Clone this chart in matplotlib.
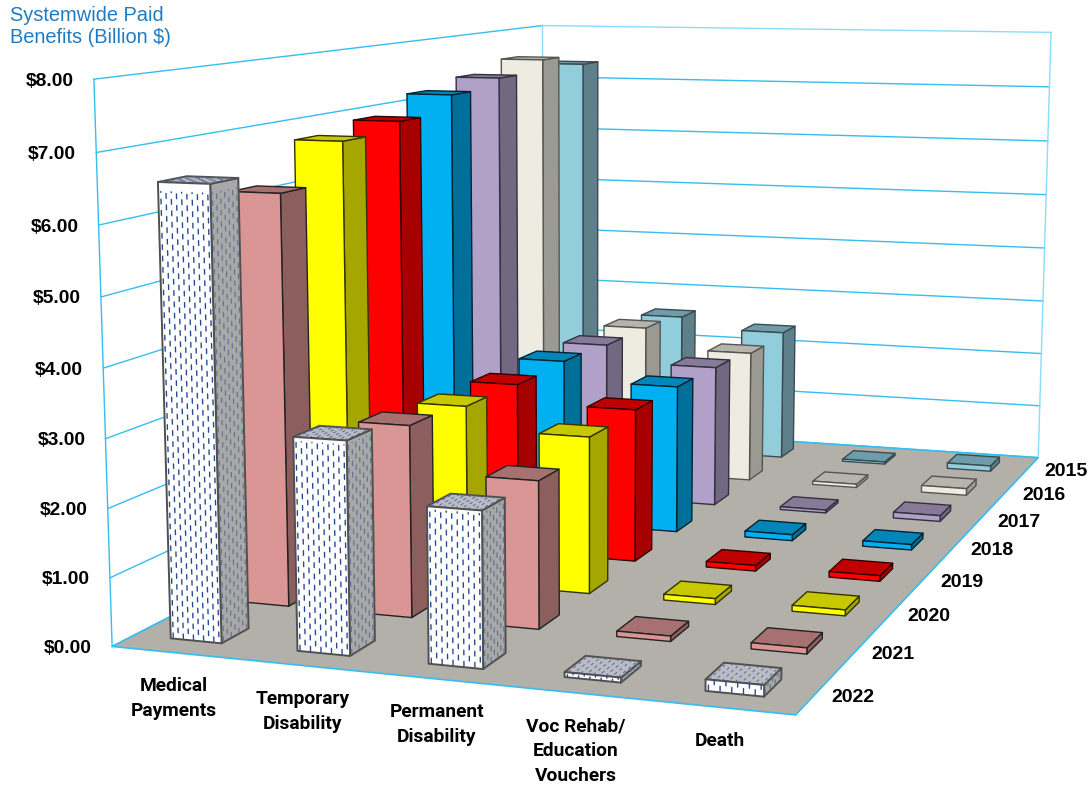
# -*- coding:utf-8 -*-
import matplotlib
matplotlib.use("Agg")
import matplotlib.pyplot as plt
import numpy as np
from matplotlib.collections import LineCollection
from matplotlib.patches import Polygon

categories = ["Medical\nPayments", "Temporary\nDisability", "Permanent\nDisability",
              "Voc Rehab/\nEducation\nVouchers", "Death"]
years = ["2022", "2021", "2020", "2019", "2018", "2017", "2016", "2015"]
ticks = [0, 1, 2, 3, 4, 5, 6, 7, 8]

# one list per year, same order as categories
v2022 = [6.55, 3.07, 2.23, 0.07, 0.16]
v2021 = [6.20, 2.88, 2.20, 0.08, 0.09]
v2020 = [6.78, 2.78, 2.43, 0.09, 0.09]
v2019 = [6.92, 2.75, 2.46, 0.09, 0.09]
v2018 = [7.20, 2.78, 2.46, 0.10, 0.09]
v2017 = [7.35, 2.72, 2.43, 0.05, 0.10]
v2016 = [7.55, 2.70, 2.34, 0.06, 0.12]
v2015 = [7.35, 2.59, 2.39, 0.04, 0.10]
values = [v2022, v2021, v2020, v2019, v2018, v2017, v2016, v2015]

# front, side, top
palette = [
    ("#FFFFFF", "#A8A8A8", "#B9BCC4"),
    ("#D99694", "#8C5F5E", "#A67170"),
    ("#FFFF00", "#A6A600", "#C8C800"),
    ("#FF0000", "#A60000", "#C00000"),
    ("#00B0F0", "#00709A", "#0087B8"),
    ("#B1A0C7", "#736881", "#877A98"),
    ("#EEECE1", "#9A9992", "#B6B5AC"),
    ("#92CDDC", "#5F808A", "#6E9CAA"),
]
edges = ["#505050", "#222222", "#333300", "#330000", "#002233", "#333040", "#555555", "#3A4A50"]

GRID = "#35BDF0"
GRID_LIGHT = "#8ADDF7"
FLOOR = "#B3B0A9"
BAR_X = 0.29
BAR_W = 0.405
BAR_Y = 0.30
BAR_D = 0.39


def fit_camera():
    # box corners and wall ticks as they sit on the page: (x, depth, z) -> pixel
    pts = [((0, 0, 0), (112, 645)), ((5, 0, 0), (797, 717)), ((5, 8, 0), (1038, 457)),
           ((0, 8, 0), (544, 428)), ((0, 8, 8), (543, 24))]
    left_y = [645, 577, 508, 439, 368, 297, 226, 153, 80]
    right_y = [457, 406, 353, 301, 248, 194, 141, 87, 33]
    for k in range(9):
        pts.append(((0, 0, k), (112 - 18 * k / 8, left_y[k])))
        pts.append(((5, 8, k), (1038 + 13 * k / 8, right_y[k])))
    rows = []
    for (x, y, z), (u, v) in pts:
        rows.append([x, y, z, 1, 0, 0, 0, 0, -u * x, -u * y, -u * z, -u])
        rows.append([0, 0, 0, 0, x, y, z, 1, -v * x, -v * y, -v * z, -v])
    _, _, vt = np.linalg.svd(np.array(rows, dtype=float))
    return vt[-1].reshape(3, 4)


CAM = fit_camera()


def project(x, y, z):
    p = CAM @ np.array([x, y, z, 1.0])
    return p[0] / p[2], p[1] / p[2]


def poly(ax, corners, color, edge, zorder, lw=1.0):
    ax.add_patch(Polygon([project(*c) for c in corners], closed=True, facecolor=color,
                         edgecolor=edge, linewidth=lw, joinstyle="round", zorder=zorder))


def dashes(ax, a, b, c, nu, nv, length, color, lw, zorder):
    # staggered little strokes on the face a + u*(b-a) + v*(c-a)
    a, b, c = np.array(a, float), np.array(b, float), np.array(c, float)
    segs = []
    for m in range(nu):
        u = (m + 0.5) / nu
        off = 0.5 if m % 2 else 0.0
        for n in range(nv):
            v0 = (n + off + 0.1) / nv
            v1 = min(v0 + length / nv, 0.98)
            if v0 >= 0.98:
                continue
            segs.append([project(*(a + u * (b - a) + v0 * (c - a))),
                         project(*(a + u * (b - a) + v1 * (c - a)))])
    ax.add_collection(LineCollection(segs, colors=color, linewidths=lw, zorder=zorder, capstyle="round"))


def draw_bar(ax, i, j, h, order):
    x0 = i + BAR_X
    x1 = x0 + BAR_W
    y0 = j + BAR_Y
    y1 = y0 + BAR_D
    front, side, top = palette[j]
    edge = edges[j]
    lw = 1.4 if j == 0 else 1.0
    poly(ax, [(x1, y0, 0), (x1, y1, 0), (x1, y1, h), (x1, y0, h)], side, edge, order, lw)
    poly(ax, [(x0, y0, h), (x1, y0, h), (x1, y1, h), (x0, y1, h)], top, edge, order, lw)
    poly(ax, [(x0, y0, 0), (x1, y0, 0), (x1, y0, h), (x0, y0, h)], front, edge, order, lw)
    if j == 0:
        nz = max(int(round(h / 0.16)), 1)
        dashes(ax, (x0, y0, 0), (x1, y0, 0), (x0, y0, h), 10, nz, 0.42, "#2A4A90", 1.0, order + 0.1)
        dashes(ax, (x1, y0, 0), (x1, y1, 0), (x1, y0, h), 7, nz, 0.4, "#66748F", 0.9, order + 0.1)
        dashes(ax, (x0, y0, h), (x1, y0, h), (x0, y1, h), 9, 4, 0.4, "#5A6A90", 0.7, order + 0.1)


def main():
    plt.rcParams["font.family"] = ["Liberation Sans", "DejaVu Sans"]
    fig = plt.figure(figsize=(10.92, 7.88), dpi=100)
    ax = fig.add_axes([0, 0, 1, 1])
    ax.set_xlim(0, 1092)
    ax.set_ylim(788, 0)
    ax.axis("off")

    # walls
    for k in ticks:
        top = project(0, 8, k)
        lx, ly = project(0, 0, k)
        right = project(5, 8, k)
        ax.plot([lx, top[0]], [ly, top[1]], color=GRID, lw=1.0, zorder=1)
        ax.plot([top[0], right[0]], [top[1], right[1]], color=GRID_LIGHT if k == 8 else GRID, lw=1.0, zorder=1)
        ax.text(lx - 20, ly + 2, "$%.2f" % k, ha="right", va="center", fontsize=13.9,
                fontweight="bold", color="black")
    for x, y, c in [(0, 0, GRID), (0, 8, GRID_LIGHT), (5, 8, GRID_LIGHT)]:
        pts = [project(x, y, 0), project(x, y, 8)]
        ax.plot([p[0] for p in pts], [p[1] for p in pts], color=c, lw=1.0, zorder=1)

    # floor
    ax.add_patch(Polygon([project(0, 0, 0), project(5, 0, 0), project(5, 8, 0), project(0, 8, 0)],
                         closed=True, facecolor=FLOOR, edgecolor=GRID, linewidth=1.2, zorder=2))

    # back rows first, left to right inside a row
    order = 3
    for j in range(len(years) - 1, -1, -1):
        for i in range(len(categories)):
            draw_bar(ax, i, j, values[j][i], order)
            order += 1

    # labels
    ax.text(10, 47, "Systemwide Paid\nBenefits (Billion $)", fontsize=14.4, color="#1F7CC4",
            ha="left", va="bottom", linespacing=1.2)
    for j, year in enumerate(years):
        px, py = project(5, j + 0.5, 0)
        ax.text(px + 36 + 0.4 * j, py + 5 - 0.3 * j, year, ha="center", va="center", fontsize=14,
                fontweight="bold")
    for i, name in enumerate(categories):
        px, py = project(i + 0.5, 0, 0)
        ax.text(px - 1.5, py + 24, name, ha="center", va="top", fontsize=13.8, fontweight="bold",
                family=["Roboto", "Liberation Sans"], linespacing=1.5)

    fig.savefig("out.png", dpi=100)


if __name__ == '__main__':
    main()
